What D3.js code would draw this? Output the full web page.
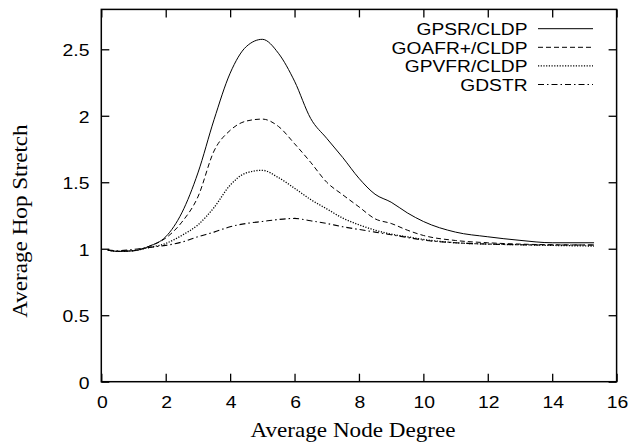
<!DOCTYPE html>
<html lang="en">
<head>
<meta charset="utf-8">
<title>Average Hop Stretch</title>
<script src="https://d3js.org/d3.v7.min.js"></script>
<style>
    body { margin: 0; background: white; }
</style>
</head>
<body>
<div id="viz"></div>
<script>

    // average node degree (x), shared by all series
    var degree = [0.2, 0.5, 1, 1.5, 2, 2.5, 3, 3.5, 4, 4.5, 5, 5.5, 6, 6.5, 7, 7.5, 8, 8.5, 9, 9.5, 10, 11, 12, 13, 14, 15.3];

    var gpsr   = [0.99, 0.98, 0.985, 1.02, 1.09, 1.27, 1.57, 1.97, 2.32, 2.52, 2.575, 2.47, 2.26, 1.98, 1.83, 1.685, 1.53, 1.41, 1.35, 1.27, 1.205, 1.125, 1.09, 1.063, 1.045, 1.045];
    var goafr  = [0.99, 0.98, 0.985, 1.02, 1.08, 1.2, 1.39, 1.735, 1.89, 1.96, 1.975, 1.92, 1.79, 1.65, 1.5, 1.405, 1.315, 1.225, 1.19, 1.14, 1.10, 1.062, 1.045, 1.035, 1.03, 1.028];
    var gpvfr  = [0.99, 0.98, 0.985, 1.01, 1.04, 1.1, 1.18, 1.31, 1.478, 1.57, 1.59, 1.535, 1.455, 1.37, 1.30, 1.23, 1.18, 1.14, 1.11, 1.09, 1.07, 1.045, 1.035, 1.03, 1.025, 1.02];
    var gdstr  = [0.99, 0.985, 0.995, 1.01, 1.025, 1.05, 1.09, 1.125, 1.165, 1.19, 1.205, 1.22, 1.228, 1.21, 1.19, 1.165, 1.145, 1.125, 1.105, 1.085, 1.065, 1.045, 1.035, 1.03, 1.028, 1.028];

    var seriesNames = ["GPSR/CLDP", "GOAFR+/CLDP", "GPVFR/CLDP", "GDSTR"];
    var seriesValues = [gpsr, goafr, gpvfr, gdstr];
    var dashes = [null, "5,3", "1.2,1.5", "6,3,1.5,3"];
    var widths = [1, 1, 1.3, 1.1];

    var xTicks = [0, 2, 4, 6, 8, 10, 12, 14, 16];
    var yTicks = [0, 0.5, 1, 1.5, 2, 2.5];

    var width = 631, height = 442;
    var plotLeft = 101.3, plotRight = 616.6, plotTop = 9.4, plotBottom = 381.7;

    var x = d3.scaleLinear().domain([0, 16]).range([plotLeft, plotRight]);
    var y = d3.scaleLinear().domain([0, 2.8]).range([plotBottom, plotTop]);

    var svg = d3.select("#viz").append("svg")
        .attr("width", width)
        .attr("height", height);

    // stretched text, gnuplot-eps look
    function label(px, py, txt, anchor, family, size, sx, rot) {
        var g = svg.append("g")
            .attr("transform", "translate(" + px + "," + py + ")" + (rot ? " rotate(" + rot + ")" : ""));
        g.append("text")
            .attr("transform", "scale(" + sx + ",1)")
            .attr("text-anchor", anchor)
            .style("font-family", family)
            .style("font-size", size + "px")
            .style("fill", "black")
            .text(txt);
    }

    // ticks, inward and mirrored
    var noLabel = function () { return ""; };
    svg.append("g").attr("transform", "translate(" + plotLeft + ",0)")
        .call(d3.axisLeft(y).tickValues(yTicks).tickSize(-8).tickFormat(noLabel));
    svg.append("g").attr("transform", "translate(" + plotRight + ",0)")
        .call(d3.axisRight(y).tickValues(yTicks).tickSize(-8).tickFormat(noLabel));
    svg.append("g").attr("transform", "translate(0," + plotBottom + ")")
        .call(d3.axisBottom(x).tickValues(xTicks).tickSize(-8).tickFormat(noLabel));
    svg.append("g").attr("transform", "translate(0," + plotTop + ")")
        .call(d3.axisTop(x).tickValues(xTicks).tickSize(-8).tickFormat(noLabel));
    svg.selectAll(".domain").remove();
    svg.selectAll(".tick line").attr("stroke", "black").attr("stroke-width", 1.3);

    svg.append("rect")
        .attr("x", plotLeft).attr("y", plotTop)
        .attr("width", plotRight - plotLeft).attr("height", plotBottom - plotTop)
        .attr("fill", "none")
        .attr("stroke", "black")
        .attr("stroke-width", 1.5);

    var sans = "'Liberation Sans', Arial, sans-serif";
    var serif = "'Liberation Serif', 'Times New Roman', serif";

    yTicks.forEach(function (v) {
        label(89.5, y(v) + 6.8, String(v), "end", sans, 17, 1.14);
    });
    xTicks.forEach(function (v) {
        label(x(v) + 1, 407.5, String(v), "middle", sans, 17, 1.14);
    });

    label(353, 436.7, "Average Node Degree", "middle", serif, 21.5, 1.075);
    label(26.5, 221, "Average Hop Stretch", "middle", serif, 21.5, 1.075, -90);

    // curves
    var line = d3.line()
        .x(function (d) { return x(d[0]); })
        .y(function (d) { return y(d[1]); })
        .curve(d3.curveMonotoneX);

    seriesValues.forEach(function (vals, i) {
        svg.append("path")
            .datum(degree.map(function (d, j) { return [d, vals[j]]; }))
            .attr("d", line)
            .attr("fill", "none")
            .attr("stroke", "black")
            .attr("stroke-width", widths[i])
            .attr("stroke-dasharray", dashes[i]);
    });

    // legend
    seriesNames.forEach(function (name, i) {
        var by = 35.2 + i * 18.6;
        label(527.5, by, name, "end", sans, 17, 1.13);
        svg.append("line")
            .attr("x1", 538).attr("x2", 593)
            .attr("y1", by - 6.5).attr("y2", by - 6.5)
            .attr("stroke", "black")
            .attr("stroke-width", widths[i])
            .attr("stroke-dasharray", dashes[i]);
    });

</script>
</body>
</html>
